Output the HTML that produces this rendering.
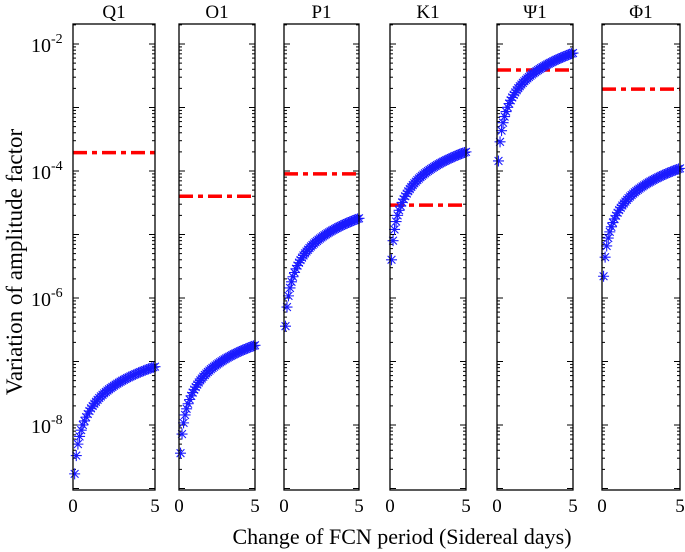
<!DOCTYPE html>
<html><head><meta charset="utf-8"><style>
body{margin:0;background:#fff}
svg{display:block;font-family:"Liberation Serif",serif}
</style></head><body>
<svg id="chart" width="685" height="552" viewBox="0 0 685 552"></svg>
<script>
const panelNames=["Q1","O1","P1","K1","Ψ1","Φ1"];
const xValues=[0.1,0.2,0.3,0.4,0.5,0.6,0.7,0.8,0.9,1.0,1.1,1.2,1.3,1.4,1.5,1.6,1.7,1.8,1.9,2.0,2.1,2.2,2.3,2.4,2.5,2.6,2.7,2.8,2.9,3.0,3.1,3.2,3.3,3.4,3.5,3.6,3.7,3.8,3.9,4.0,4.1,4.2,4.3,4.4,4.5,4.6,4.7,4.8,4.9,5.0];
const q1Values=[1.7,3.3,5.0,6.6,8.3,10.0,11.6,13.3,14.9,16.6,18.3,19.9,21.6,23.2,24.9,26.6,28.2,29.9,31.5,33.2,34.9,36.5,38.2,39.8,41.5,43.2,44.8,46.5,48.1,49.8,51.5,53.1,54.8,56.4,58.1,59.8,61.4,63.1,64.7,66.4,68.1,69.7,71.4,73.0,74.7,76.4,78.0,79.7,81.3,83.0];
const o1Values=[3.6,7.2,10.8,14.4,18,21.6,25.2,28.8,32.4,36,39.6,43.2,46.8,50.4,54,57.6,61.2,64.8,68.4,72,75.6,79.2,82.8,86.4,90,93.6,97.2,100.8,104.4,108,111.6,115.2,118.8,122.4,126,129.6,133.2,136.8,140.4,144,147.6,151.2,154.8,158.4,162,165.6,169.2,172.8,176.4,180];
const p1Values=[3.6,7.2,10.8,14.4,18,21.6,25.2,28.8,32.4,36,39.6,43.2,46.8,50.4,54,57.6,61.2,64.8,68.4,72,75.6,79.2,82.8,86.4,90,93.6,97.2,100.8,104.4,108,111.6,115.2,118.8,122.4,126,129.6,133.2,136.8,140.4,144,147.6,151.2,154.8,158.4,162,165.6,169.2,172.8,176.4,180];
const k1Values=[4,8,12,16,20,24,28,32,36,40,44,48,52,56,60,64,68,72,76,80,84,88,92,96,100,104,108,112,116,120,124,128,132,136,140,144,148,152,156,160,164,168,172,176,180,184,188,192,196,200];
const psi1Values=[14.4,28.8,43.2,57.6,72,86.4,100.8,115.2,129.6,144,158.4,172.8,187.2,201.6,216,230.4,244.8,259.2,273.6,288,302.4,316.8,331.2,345.6,360,374.4,388.8,403.2,417.6,432,446.4,460.8,475.2,489.6,504,518.4,532.8,547.2,561.6,576,590.4,604.8,619.2,633.6,648,662.4,676.8,691.2,705.6,720];
const phi1Values=[2.2,4.4,6.6,8.8,11,13.2,15.4,17.6,19.8,22,24.2,26.4,28.6,30.8,33,35.2,37.4,39.6,41.8,44,46.2,48.4,50.6,52.8,55,57.2,59.4,61.6,63.8,66,68.2,70.4,72.6,74.8,77,79.2,81.4,83.6,85.8,88,90.2,92.4,94.6,96.8,99,101.2,103.4,105.6,107.8,110];
const seriesUnits=[1e-9,1e-9,1e-7,1e-6,1e-5,1e-6];
const thresholdValues=[1.95e-4,4e-5,9e-5,2.9e-5,3.9e-3,1.95e-3];
const yTickExponents=[-2,-4,-6,-8];
const xTickLabels=[0,5];
const allSeries=[q1Values,o1Values,p1Values,k1Values,psi1Values,phi1Values];

const NS="http://www.w3.org/2000/svg";
const svg=document.getElementById('chart');
function mk(tag,attrs,parent){const e=document.createElementNS(NS,tag);for(const k in attrs)e.setAttribute(k,attrs[k]);(parent||svg).appendChild(e);return e;}
const panelLeft=[73,179,284,390,497,602];
const panelRight=[155,255,359,466,573,680];
const TOP=24,BOTTOM=490;
const yDecade=63.5, yRef=44;
function yScale(v){return yRef+(-2-Math.log10(v))*yDecade;}
function xScale(i,x){return panelLeft[i]+(x/5)*(panelRight[i]-panelLeft[i]);}

panelNames.forEach((name,i)=>{
  const g=mk('g',{});
  
  
  const L=panelLeft[i],R=panelRight[i];
  const t=mk('text',{x:(L+R)/2,y:18,'text-anchor':'middle','font-size':19},g);
  t.textContent=name;
  
  
  for(let e=-9;e<=-2;e++){
    for(let m=1;m<=9;m++){
      const v=m*Math.pow(10,e);const y=yScale(v);
      if(y<TOP||y>BOTTOM)continue;
      const len=m===1?6:3;
      mk('line',{x1:L,x2:L+len,y1:y,y2:y,stroke:'#000','stroke-width':1},g);
      mk('line',{x1:R,x2:R-len,y1:y,y2:y,stroke:'#000','stroke-width':1},g);
    }
  }
  const ty=yScale(thresholdValues[i]);
  const th=mk('line',{x1:L,x2:R,y1:ty,y2:ty,stroke:'#ff0000','stroke-width':3.5,'stroke-dasharray':'14 5 5 5'},g);
  
  
  const vals=allSeries[i],unit=seriesUnits[i];
  vals.forEach((v,j)=>{
    const cx=xScale(i,xValues[j]),cy=yScale(v*unit),r=5.5,d=3.9;
    const s=mk('path',{d:`M${cx-r},${cy}H${cx+r}M${cx},${cy-r}V${cy+r}M${cx-d},${cy-d}L${cx+d},${cy+d}M${cx-d},${cy+d}L${cx+d},${cy-d}`,stroke:'#1a1aff','stroke-width':1.1,fill:'none'},g);
    
    
  });
  const box=mk('rect',{x:L,y:TOP,width:R-L,height:BOTTOM-TOP,fill:'none',stroke:'#000','stroke-width':1.3},g);
  
  
  xTickLabels.forEach(x=>{
    const lt=mk('text',{x:xScale(i,x),y:512,'text-anchor':'middle','font-size':19},g);
    lt.textContent=x;
    
    
  });
});
yTickExponents.forEach(e=>{
  const y=yScale(Math.pow(10,e));
  const t=mk('text',{x:31,y:y+8,'font-size':20});
  
  
  t.textContent='10';
  const sp=mk('tspan',{dy:-9,'font-size':14},t);sp.textContent=String(e);
});
const xl=mk('text',{x:402,y:544,'text-anchor':'middle','font-size':22});
xl.textContent='Change of FCN period (Sidereal days)';


const yl=mk('text',{x:0,y:0,'text-anchor':'middle','font-size':23,transform:'translate(22,262) rotate(-90)'});
yl.textContent='Variation of amplitude factor';


</script>
</body></html>
